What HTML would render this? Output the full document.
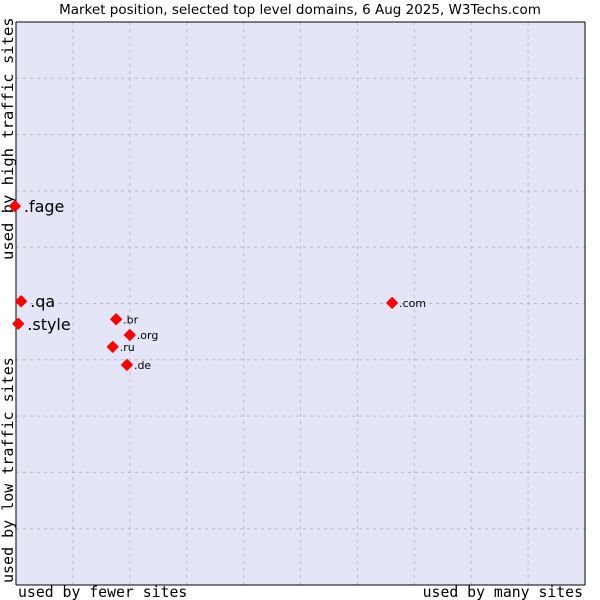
<!DOCTYPE html>
<html><head><meta charset="utf-8"><style>
body{margin:0;background:#fff;}
svg{display:block;}
</style></head><body>
<svg id="chart" width="600" height="600" xmlns="http://www.w3.org/2000/svg">
<text x="300" y="14" text-anchor="middle" font-family="DejaVu Sans, sans-serif" font-size="13.5" fill="#000">Market position, selected top level domains, 6 Aug 2025, W3Techs.com</text>
<rect x="16" y="22" width="569" height="563" fill="#e4e6f8"/>
<g id="grid"></g>
<line x1="16" y1="22" x2="16" y2="585" stroke="#000"/>
<line x1="16" y1="585" x2="585" y2="585" stroke="#000"/>
<line x1="16" y1="22" x2="585" y2="22" stroke="#000"/>
<line x1="585" y1="22" x2="585" y2="585" stroke="#000"/>
<text x="18" y="597" font-family="DejaVu Sans Mono, monospace" font-size="14.8">used by fewer sites</text>
<text x="583" y="597" text-anchor="end" font-family="DejaVu Sans Mono, monospace" font-size="14.8">used by many sites</text>
<text transform="translate(13,583) rotate(-90)" font-family="DejaVu Sans Mono, monospace" font-size="15">used by low traffic sites</text>
<text transform="translate(13,260) rotate(-90)" font-family="DejaVu Sans Mono, monospace" font-size="15.5">used by high traffic sites</text>
<g id="points"></g>
</svg>
<script>
const labels=[".fage",".qa",".style",".br",".org",".ru",".de",".com"];
const xValues=[-0.2,0.9,0.4,17.6,20.0,17.0,19.5,66.1];
const yValues=[67.3,50.4,46.4,47.2,44.4,42.3,39.1,50.1];
const bigLabel=[true,true,true,false,false,false,false,false];
const L=16,R=585,T=22,B=585;
const sx=v=>L+v/100*(R-L);
const sy=v=>B-v/100*(B-T);
const ns="http://www.w3.org/2000/svg";
const grid=document.getElementById('grid');
for(let i=1;i<10;i++){
  const gx=document.createElementNS(ns,'line');
  gx.setAttribute('x1',sx(i*10));gx.setAttribute('x2',sx(i*10));gx.setAttribute('y1',T);gx.setAttribute('y2',B);
  gx.setAttribute('stroke','#bcbcbc');gx.setAttribute('stroke-dasharray','3,4');
  
  
  grid.appendChild(gx);
  const gy=document.createElementNS(ns,'line');
  gy.setAttribute('y1',sy(i*10));gy.setAttribute('y2',sy(i*10));gy.setAttribute('x1',L);gy.setAttribute('x2',R);
  gy.setAttribute('stroke','#bcbcbc');gy.setAttribute('stroke-dasharray','3,4');
  
  
  grid.appendChild(gy);
}
const pts=document.getElementById('points');
labels.forEach((lab,i)=>{
  const x=sx(xValues[i]),y=sy(yValues[i]);
  const d=document.createElementNS(ns,'polygon');
  d.setAttribute('points',`${x},${y-5.5} ${x+5.5},${y} ${x},${y+5.5} ${x-5.5},${y}`);
  d.setAttribute('fill','#ff0000');
  d.setAttribute('stroke','#ff0000');
  d.setAttribute('stroke-linejoin','round');
  
  
  pts.appendChild(d);
  const t=document.createElementNS(ns,'text');
  t.setAttribute('x',x+(bigLabel[i]?9:7));
  t.setAttribute('y',y+(bigLabel[i]?6:4));
  t.setAttribute('font-family','DejaVu Sans, sans-serif');
  t.setAttribute('font-size',bigLabel[i]?'16':'11');
  t.textContent=lab;
  
  
  pts.appendChild(t);
});
</script>
</body></html>
